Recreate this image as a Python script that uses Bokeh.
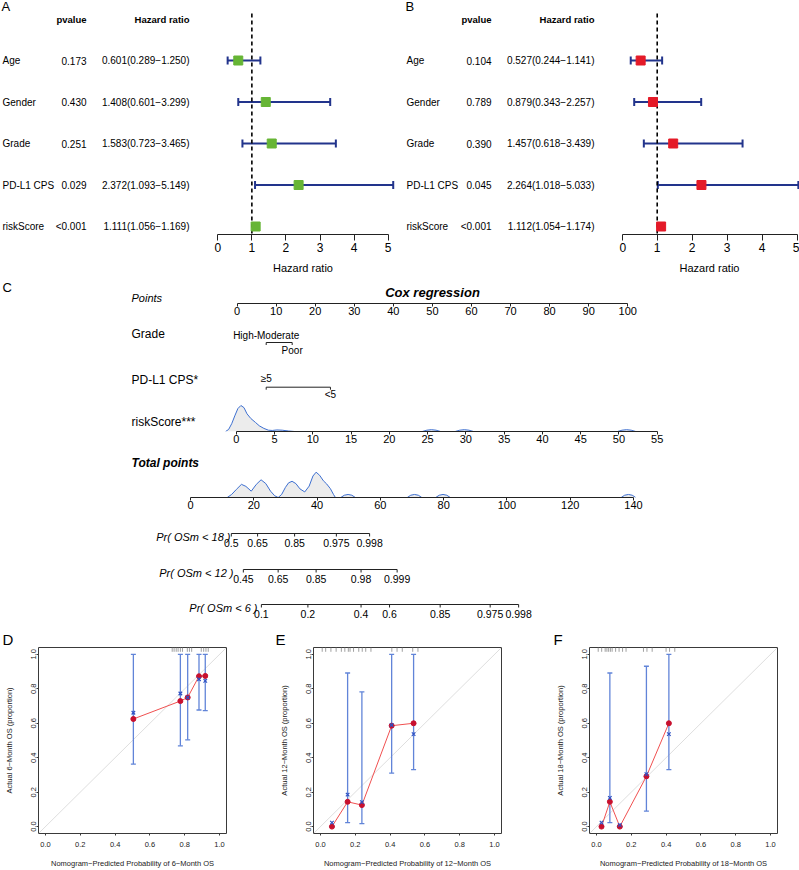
from bokeh.plotting import figure
from bokeh.models import (Range1d, LinearAxis, FixedTicker, ColumnDataSource,
                          Whisker, TeeHead, Slope, PrintfTickFormatter, Title)
from bokeh.layouts import column, row
from bokeh.embed import file_html
from bokeh.resources import INLINE
from bokeh.core.properties import value

SANS = "Liberation Sans"

# ---------------------------------------------------------------- data
variables = ["Age", "Gender", "Grade", "PD-L1 CPS", "riskScore"]
a_pvalue = ["0.173", "0.430", "0.251", "0.029", "<0.001"]
a_hr = [0.601, 1.408, 1.583, 2.372, 1.111]
a_lo = [0.289, 0.601, 0.723, 1.093, 1.056]
a_hi = [1.250, 3.299, 3.465, 5.149, 1.169]
b_pvalue = ["0.104", "0.789", "0.390", "0.045", "<0.001"]
b_hr = [0.527, 0.879, 1.457, 2.264, 1.112]
b_lo = [0.244, 0.343, 0.618, 1.018, 1.054]
b_hi = [1.141, 2.257, 3.439, 5.033, 1.174]
hr_ticks = [0, 1, 2, 3, 4, 5]
NULL_HR = 1

points_ticks = [0, 10, 20, 30, 40, 50, 60, 70, 80, 90, 100]
grade_levels = ["High-Moderate", "Poor"]
grade_points = [7.45, 14.1]
pdl1_levels = ["\u22655", "<5"]
pdl1_points = [7.45, 23.9]
risk_ticks = [0, 5, 10, 15, 20, 25, 30, 35, 40, 45, 50, 55]
risk_dens_x = [-1.4, -1.0, -0.6, -0.2, 0.2, 0.6, 1.0, 1.4, 1.9, 2.5, 3.0, 3.6, 4.2, 4.7, 5.3, 6.0, 6.8, 7.6]
risk_dens_h = [0.0, 0.08, 0.30, 0.60, 0.88, 1.0, 0.92, 0.68, 0.50, 0.35, 0.22, 0.12, 0.05, 0.04, 0.06, 0.05, 0.02, 0.0]
risk_bump_x = [[24.3, 24.9, 25.5, 26.1, 26.7], [28.6, 29.2, 29.8, 30.4, 31.0], [49.8, 50.4, 51.0, 51.6, 52.2]]
risk_bump_h = [[0.0, 0.05, 0.07, 0.05, 0.0], [0.0, 0.05, 0.07, 0.05, 0.0], [0.0, 0.05, 0.07, 0.05, 0.0]]
total_ticks = [0, 20, 40, 60, 80, 100, 120, 140]
total_dens_x = [11.6, 13.0, 14.5, 16.1, 17.5, 19.2, 20.8, 22.3, 23.8, 25.3, 26.6, 27.7, 28.8, 30.0,
                31.0, 32.1, 33.3, 34.6, 36.1, 37.5, 38.7, 39.7, 40.8, 42.0, 43.0, 44.2, 45.2, 45.8]
total_dens_h = [0.0, 0.12, 0.32, 0.52, 0.44, 0.25, 0.52, 0.70, 0.55, 0.25, 0.07, 0.0, 0.12, 0.40,
                0.58, 0.64, 0.55, 0.34, 0.22, 0.45, 0.85, 1.0, 0.88, 0.66, 0.54, 0.35, 0.12, 0.0]
total_bump_x = [[47.5, 48.6, 49.8, 51.0, 52.1], [68.5, 69.6, 70.8, 72.0, 73.1],
                [77.5, 78.6, 79.8, 81.0, 82.1], [136.1, 137.2, 138.4, 139.6, 140.7]]
total_bump_h = [[0.0, 0.09, 0.12, 0.09, 0.0], [0.0, 0.09, 0.12, 0.09, 0.0],
                [0.0, 0.09, 0.12, 0.09, 0.0], [0.0, 0.09, 0.12, 0.09, 0.0]]
pr_names = ["Pr( OSm < 18 )", "Pr( OSm < 12 )", "Pr( OSm < 6 )"]
pr18_labels = ["0.5", "0.65", "0.85", "0.975", "0.998"]
pr18_points = [12.9, 21.2, 32.9, 46.1, 56.6]
pr12_labels = ["0.45", "0.65", "0.85", "0.98", "0.999"]
pr12_points = [16.7, 27.7, 39.7, 53.9, 65.3]
pr6_labels = ["0.1", "0.2", "0.4", "0.6", "0.85", "0.975", "0.998"]
pr6_points = [22.4, 37.1, 53.9, 62.9, 78.9, 94.7, 103.7]

cal_ticks = [0.0, 0.2, 0.4, 0.6, 0.8, 1.0]
cal6_pred = [0.505, 0.775, 0.817, 0.882, 0.918]
cal6_obs = [0.625, 0.729, 0.750, 0.873, 0.875]
cal6_corr = [0.661, 0.773, 0.750, 0.856, 0.846]
cal6_lo = [0.363, 0.469, 0.504, 0.677, 0.674]
cal6_hi = [1.0, 1.0, 1.0, 1.0, 1.0]
cal6_rug = [0.728, 0.739, 0.751, 0.762, 0.775, 0.787, 0.815, 0.827, 0.840, 0.895, 0.909, 0.922, 0.935]
cal12_pred = [0.066, 0.156, 0.238, 0.409, 0.535]
cal12_obs = [0.0, 0.144, 0.125, 0.586, 0.600]
cal12_corr = [0.023, 0.186, 0.142, 0.590, 0.537]
cal12_lo = [0.0, 0.023, 0.017, 0.311, 0.331]
cal12_hi = [0.0, 0.892, 0.782, 1.0, 1.0]
cal12_rug = [0.01, 0.03, 0.06, 0.09, 0.12, 0.14, 0.16, 0.17, 0.19, 0.22, 0.24, 0.26, 0.29,
             0.41, 0.44, 0.47, 0.53, 0.56]
cal18_pred = [0.029, 0.077, 0.134, 0.287, 0.416]
cal18_obs = [0.0, 0.144, 0.0, 0.292, 0.600]
cal18_corr = [0.023, 0.167, 0.010, 0.305, 0.537]
cal18_lo = [0.0, 0.023, 0.0, 0.090, 0.331]
cal18_hi = [0.0, 0.892, 0.0, 0.931, 1.0]
cal18_rug = [0.01, 0.03, 0.05, 0.06, 0.07, 0.08, 0.09, 0.11, 0.13, 0.15, 0.17, 0.27, 0.29,
             0.32, 0.40, 0.42, 0.45]

# ---------------------------------------------------------------- styles
NAVY = "#22348c"
GREEN = "#66b535"
RED = "#e41a28"
DENS_FILL = "#ececec"
DENS_LINE = "#3d6fd0"
CI_BLUE = "#6184d8"
X_BLUE = "#2f52c4"
CAL_RED_LINE = "#f05050"
CAL_RED_DOT = "#c8102e"
AX = "#222222"


def base_fig(width, height, xr, yr, left=0, right=0, top=0, bottom=0):
    p = figure(width=width, height=height, x_range=xr, y_range=yr,
               output_backend="svg", toolbar_location=None,
               x_axis_type=None, y_axis_type=None,
               min_border_left=left, min_border_right=right,
               min_border_top=top, min_border_bottom=bottom)
    p.outline_line_color = None
    p.background_fill_color = "white"
    p.border_fill_color = "white"
    return p


def txt(p, x, y, text, size, style="normal", align="left", baseline="middle", color="black"):
    p.text(x=x, y=y, text=text, text_font=value(SANS), text_font_size=f"{size}px",
           text_font_style=style, text_align=align, text_baseline=baseline, text_color=color)


def lin_range(v0, px0, v1, px1, width=799):
    s = (px1 - px0) / (v1 - v0)
    start = v0 - px0 / s
    return Range1d(start, start + width / s)


def px2data(rng, px, width=799):
    return rng.start + px * (rng.end - rng.start) / width


# ---------------------------------------------------------------- forest plots
H_F, FH_F = 280, 234


def ypx(px):
    return 1 + (226 - px) / 41.5


forest_yr = Range1d(ypx(FH_F), ypx(0))


def forest(letter, hr, lo, hi, pv, box_color, page_left, table_w, plot_w, plot_right,
           zero_abs, unit_px, letter_x, lab_x, p_x, hr_x):
    n = len(variables)
    ys = list(range(n, 0, -1))
    hr_text = [f"{h:.3f}({l:.3f}\u2212{u:.3f})" for h, l, u in zip(hr, lo, hi)]
    src = ColumnDataSource(dict(y=ys, var=variables, pv=pv, hrt=hr_text, hr=hr, lo=lo, hi=hi))

    # table part (x in pixels of the table canvas)
    t = base_fig(table_w, H_F, Range1d(0, table_w), forest_yr, bottom=H_F - FH_F)
    for x, col, al in ((lab_x, "var", "left"), (p_x, "pv", "right"), (hr_x, "hrt", "right")):
        t.text(x=x, y="y", text=col, source=src, text_font=value(SANS), text_font_size="10px",
               text_baseline="middle", text_align=al, text_color="black")
    txt(t, [p_x, hr_x], [ypx(19), ypx(19)], ["pvalue", "Hazard ratio"], 9.5, style="bold",
        align="right")
    txt(t, [letter_x], [ypx(6)], [letter], 13)

    # plot part
    frame_w = plot_w - plot_right
    frame_left_abs = page_left + table_w
    x0 = (frame_left_abs - zero_abs) / unit_px
    p = base_fig(plot_w, H_F, Range1d(x0, x0 + frame_w / unit_px), forest_yr,
                 right=plot_right, bottom=H_F - FH_F)
    p.segment(x0=[NULL_HR], x1=[NULL_HR], y0=[ypx(13)], y1=[ypx(233)], line_color="black",
              line_width=1.6, line_dash="4 3")
    p.add_layout(Whisker(source=src, base="y", lower="lo", upper="hi", dimension="width",
                         line_color=NAVY, line_width=2, level="underlay",
                         upper_head=TeeHead(size=8, line_color=NAVY, line_width=2),
                         lower_head=TeeHead(size=8, line_color=NAVY, line_width=2)))
    p.scatter(x="hr", y="y", source=src, marker="square", size=9,
              fill_color=box_color, line_color=box_color)
    ax = LinearAxis(bounds=(hr_ticks[0], hr_ticks[-1]), ticker=FixedTicker(ticks=hr_ticks),
                    axis_label="Hazard ratio", major_tick_out=6, major_tick_in=0,
                    minor_tick_out=0, minor_tick_in=0, major_label_standoff=2,
                    axis_label_standoff=7, axis_line_color=AX, major_tick_line_color=AX,
                    major_label_text_font=SANS, major_label_text_font_size="12px",
                    major_label_text_color="black", axis_label_text_font=SANS,
                    axis_label_text_font_size="11px", axis_label_text_font_style="normal",
                    axis_label_text_color="black")
    p.add_layout(ax, "below")
    return row(t, p)


pA = forest("A", a_hr, a_lo, a_hi, a_pvalue, GREEN, 0, 210, 190, 5, 217.3, 34.07,
            1, 2, 86, 189)
pB = forest("B", b_hr, b_lo, b_hi, b_pvalue, RED, 400, 219, 180, 0, 621.7, 35.0,
            5, 6, 91, 194)

# ---------------------------------------------------------------- nomogram
pts_range = lin_range(0, 236.6, 100, 627.2)
risk_range = lin_range(0, 235.8, 55, 656.7)
total_range = lin_range(0, 190.0, 140, 633.0)


def nomo_axis(ticks):
    return LinearAxis(bounds=(ticks[0], ticks[-1]), ticker=FixedTicker(ticks=ticks),
                      major_tick_out=3, major_tick_in=0, minor_tick_out=0, minor_tick_in=0,
                      major_label_standoff=0, axis_line_color=AX, major_tick_line_color=AX,
                      major_label_text_font=SANS, major_label_text_font_size="11px",
                      major_label_text_color="black")


def nomo_row(height, frame_h, xr, yr):
    return base_fig(799, height, xr, yr, bottom=height - frame_h)


# Row 1: title + Points  (page 280-320, frame 280-303, y in px above frame bottom)
r1 = nomo_row(40, 23, pts_range, Range1d(0, 23))
r1.add_layout(nomo_axis(points_ticks), "below")
txt(r1, [px2data(pts_range, 2)], [303 - 287], ["C"], 13)
txt(r1, [px2data(pts_range, 432)], [303 - 291.5], ["Cox regression"], 13, style="bold italic",
    align="center")
txt(r1, [px2data(pts_range, 131)], [6.0], ["Points"], 11, style="italic")


def cat_row(levels, pts, page_top, height, line_abs, above_abs, below_abs, name, name_abs_y):
    fb = page_top + height
    p = nomo_row(height, height, pts_range, Range1d(0, height))
    yl = fb - line_abs
    p.segment(x0=[pts[0]], x1=[pts[-1]], y0=[yl], y1=[yl], line_color=AX, line_width=1)
    p.segment(x0=pts, x1=pts, y0=[yl] * len(pts), y1=[yl - 2.5] * len(pts),
              line_color=AX, line_width=1)
    ylab = [(fb - above_abs) if i % 2 == 0 else (fb - below_abs) for i in range(len(pts))]
    txt(p, pts, ylab, levels, 10, align="center")
    txt(p, [px2data(pts_range, 131)], [fb - name_abs_y], [name], 12)
    return p


r2 = cat_row(grade_levels, grade_points, 320, 40, 342, 334.7, 350, "Grade", 333.5)
r3 = cat_row(pdl1_levels, pdl1_points, 360, 40, 386.7, 378, 394, "PD-L1 CPS*", 379.3)


def dens_row(height, frame_h, xr, peak_px, xs_main, hs_main, xs_b, hs_b, ticks):
    unit = 1.0 / peak_px
    p = nomo_row(height, frame_h, xr, Range1d(0, frame_h * unit))
    xs = [xs_main] + xs_b
    hs = [hs_main] + hs_b
    p.patches(xs=xs, ys=hs, fill_color=DENS_FILL, line_color=None)
    p.multi_line(xs=xs, ys=hs, line_color=DENS_LINE, line_width=1)
    p.add_layout(nomo_axis(ticks), "below")
    return p, unit


r4, u4 = dens_row(48, 31, risk_range, 26, risk_dens_x, risk_dens_h, risk_bump_x, risk_bump_h,
                  risk_ticks)
txt(r4, [px2data(risk_range, 131)], [(431 - 421) * u4], ["riskScore***"], 12)
r5, u5 = dens_row(66, 49, total_range, 25.3, total_dens_x, total_dens_h, total_bump_x,
                  total_bump_h, total_ticks)
txt(r5, [px2data(total_range, 131)], [(497 - 462.7) * u5], ["Total points"], 12,
    style="bold italic")

# Probability scales (page 514-620, y in px above bottom 620)
rp = nomo_row(106, 106, total_range, Range1d(0, 106))
for pts, labels, name, right_abs, line_abs in (
        (pr18_points, pr18_labels, pr_names[0], 230, 533),
        (pr12_points, pr12_labels, pr_names[1], 233, 569),
        (pr6_points, pr6_labels, pr_names[2], 257, 604)):
    yl = 620 - line_abs
    rp.segment(x0=[pts[0]], x1=[pts[-1]], y0=[yl], y1=[yl], line_color=AX, line_width=1)
    rp.segment(x0=pts, x1=pts, y0=[yl] * len(pts), y1=[yl - 3] * len(pts),
               line_color=AX, line_width=1)
    txt(rp, pts, [yl - 9] * len(pts), labels, 10.5, align="center")
    txt(rp, [px2data(total_range, right_abs)], [yl - 3], [name], 11, style="italic",
        align="right")


# ---------------------------------------------------------------- calibration
def calib(width, left, pred, obs, corr, lo, hi, rug, xlabel, ylabel, letter, letter_x):
    H, FW, top = 250, 188, 27
    bottom = H - top - FW
    xr = Range1d(-0.04, 1.04)
    yr = Range1d(-0.04, 1.04)
    p = base_fig(width, H, xr, yr, left=left, right=width - left - FW, top=top, bottom=bottom)
    p.outline_line_color = "#3a3a3a"
    p.outline_line_width = 1
    p.title = Title(text=letter, align="left", offset=letter_x - left, text_font=SANS,
                    text_font_size="15px", text_font_style="normal", text_color="black",
                    standoff=0, vertical_align="bottom")
    common = dict(ticker=FixedTicker(ticks=cal_ticks), formatter=PrintfTickFormatter(format="%.1f"),
                  axis_line_color=None, major_tick_out=2, major_tick_in=0,
                  minor_tick_out=0, minor_tick_in=0, major_tick_line_color="#3a3a3a",
                  major_label_text_font=SANS, major_label_text_font_size="7.5px",
                  major_label_text_color="#222", axis_label_text_font=SANS,
                  axis_label_text_font_size="7.5px", axis_label_text_font_style="normal",
                  axis_label_text_color="#222")
    xa = LinearAxis(axis_label=xlabel, major_label_standoff=6, axis_label_standoff=9, **common)
    ya = LinearAxis(axis_label=ylabel, major_label_standoff=0, axis_label_standoff=15,
                    major_label_orientation="vertical", **common)
    p.add_layout(xa, "below")
    p.add_layout(ya, "left")
    p.add_layout(Slope(gradient=1, y_intercept=0, line_color="#dedede", line_width=1,
                       level="underlay"))
    p.segment(x0=rug, x1=rug, y0=[yr.end] * len(rug), y1=[yr.end - 0.025] * len(rug),
              line_color="#a0a0a0", line_width=1)
    src = ColumnDataSource(dict(x=pred, obs=obs, corr=corr, lo=lo, hi=hi))
    p.add_layout(Whisker(source=src, base="x", lower="lo", upper="hi", line_color=CI_BLUE,
                         line_width=1.3, level="underlay",
                         upper_head=TeeHead(size=5, line_color=CI_BLUE, line_width=1.3),
                         lower_head=TeeHead(size=5, line_color=CI_BLUE, line_width=1.3)))
    p.line(x="x", y="obs", source=src, line_color=CAL_RED_LINE, line_width=1)
    p.scatter(x="x", y="obs", source=src, size=5, fill_color=CAL_RED_DOT, line_color=CAL_RED_DOT)
    p.scatter(x="x", y="corr", source=src, marker="x", size=5, line_color=X_BLUE, line_width=1.2)
    return p


pD = calib(265, 38, cal6_pred, cal6_obs, cal6_corr, cal6_lo, cal6_hi, cal6_rug,
           "Nomogram\u2212Predicted Probability of 6\u2212Month OS",
           "Actual 6\u2212Month OS (proportion)", "D", 2)
pE = calib(265, 48, cal12_pred, cal12_obs, cal12_corr, cal12_lo, cal12_hi, cal12_rug,
           "Nomogram\u2212Predicted Probability of 12\u2212Month OS",
           "Actual 12\u2212Month OS (proportion)", "E", 10)
pF = calib(269, 59, cal18_pred, cal18_obs, cal18_corr, cal18_lo, cal18_hi, cal18_rug,
           "Nomogram\u2212Predicted Probability of 18\u2212Month OS",
           "Actual 18\u2212Month OS (proportion)", "F", 23)

layout = column(row(pA, pB), r1, r2, r3, r4, r5, rp, row(pD, pE, pF))

with open("out.html", "w") as f:
    f.write(file_html(layout, INLINE))
